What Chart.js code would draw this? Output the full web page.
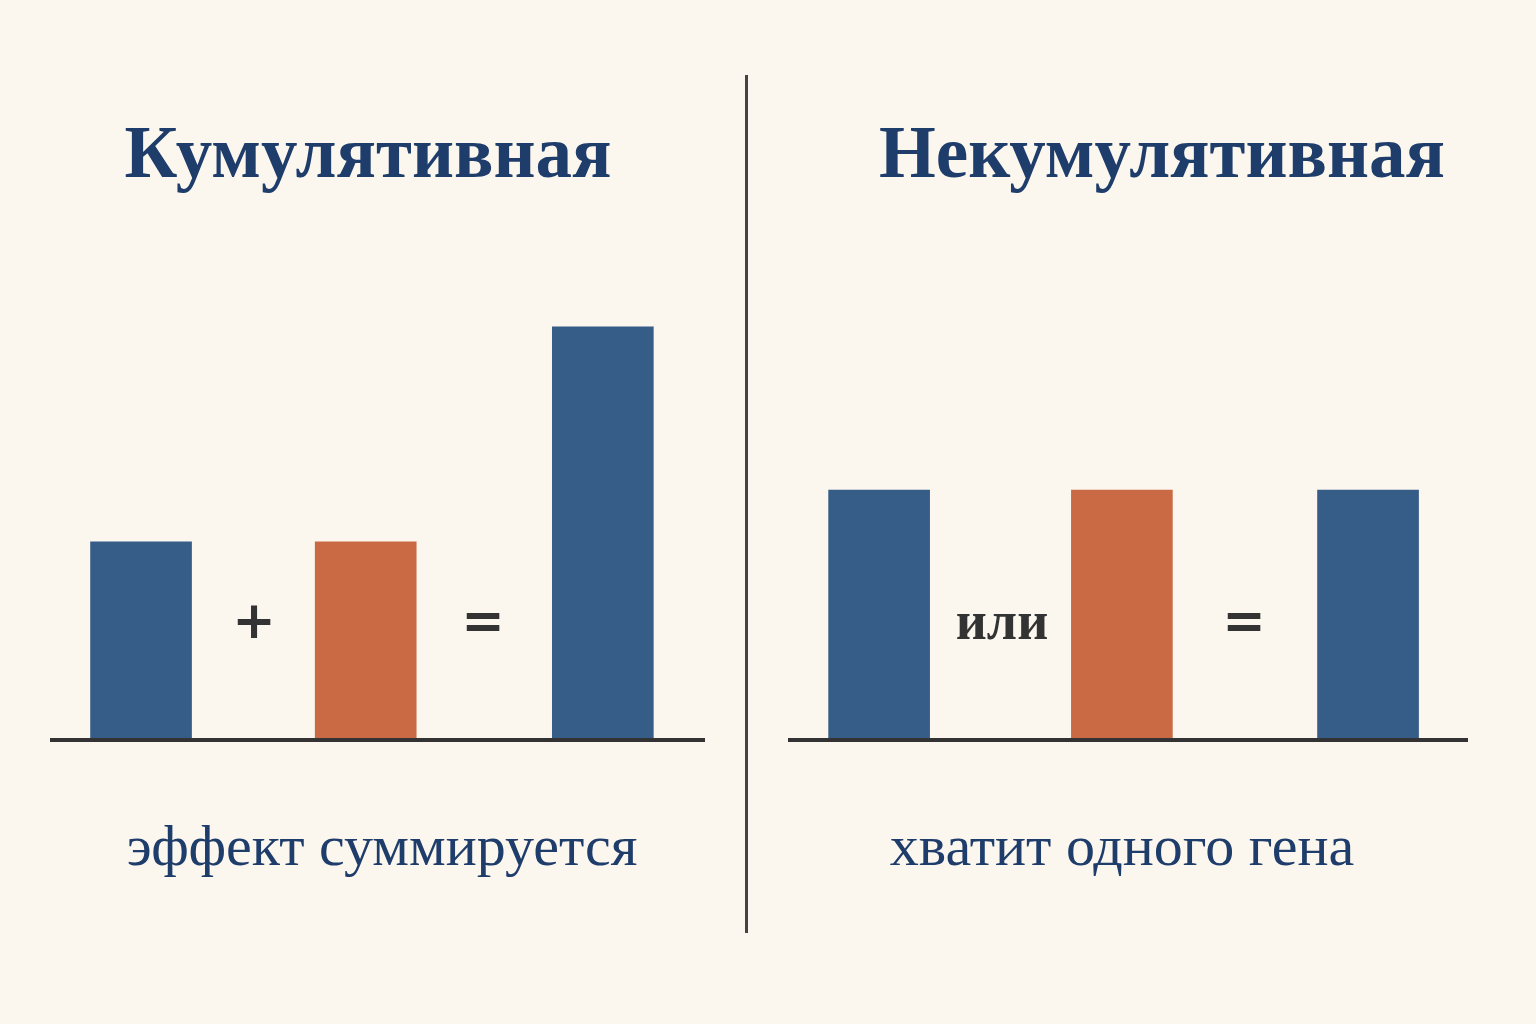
<!DOCTYPE html>
<html><head><meta charset="utf-8">
<script src="https://cdn.jsdelivr.net/npm/chart.js@4/dist/chart.umd.min.js"></script>
<style>
body{margin:0;width:1536px;height:1024px;background:#fbf6ee;position:relative;overflow:hidden;font-family:"DejaVu Serif","Liberation Serif",serif}
.t{position:absolute;white-space:nowrap;transform:translateX(-50%)}
.title{font-family:"Liberation Serif","DejaVu Serif",serif;font-weight:bold;font-size:73px;color:#1f3d6b;top:111px}
.cap{font-family:"Liberation Serif","DejaVu Serif",serif;font-size:58px;color:#1f3d6b;top:812px}
.op{font-family:"DejaVu Sans",sans-serif;font-weight:bold;font-size:52px;color:#333;top:590px}
.ili{font-family:"Liberation Serif",serif;font-weight:bold;font-size:54px;color:#333;top:590px}
#div{position:absolute;left:745px;top:75px;width:3px;height:858px;background:#444}
.wrap{position:absolute;top:300px;height:442px}
</style></head><body>
<div class="t title" style="left:368px">Кумулятивная</div>
<div class="t title" style="left:1162px">Некумулятивная</div>
<div class="t cap" style="left:382px">эффект суммируется</div>
<div class="t cap" style="left:1122px">хватит одного гена</div>
<div class="t op" style="left:254px">+</div>
<div class="t op" style="left:483px">=</div>
<div class="t ili" style="left:1002px">или</div>
<div class="t op" style="left:1244px">=</div>
<div id="div"></div>
<div class="wrap" style="left:50px;width:655px"><canvas id="c1"></canvas></div>
<div class="wrap" style="left:788px;width:680px"><canvas id="c2"></canvas></div>
<script>
const leftPositions=[1.39,4.82,8.44];
const leftValues=[4.48,4.48,9.39];
const rightPositions=[1.34,4.91,8.53];
const rightValues=[5.66,5.66,5.66];
const barColors=['#365d87','#c96a45','#365d87'];
const baseline={id:'baseline',afterDraw(c){const ctx=c.ctx,a=c.chartArea;ctx.save();ctx.strokeStyle='#333';ctx.lineWidth=4;ctx.beginPath();ctx.moveTo(0,a.bottom+2);ctx.lineTo(c.width,a.bottom+2);ctx.stroke();ctx.restore();}};
function make(id,pos,vals){
 new Chart(document.getElementById(id),{type:'bar',
  data:{datasets:[{data:pos.map((x,i)=>({x:x,y:vals[i]})),backgroundColor:barColors,barThickness:101,borderWidth:0}]},
  options:{responsive:true,maintainAspectRatio:false,animation:false,layout:{padding:{bottom:4}},
   plugins:{legend:{display:false},tooltip:{enabled:false}},
   scales:{x:{type:'linear',min:0,max:10,offset:false,display:false},y:{min:0,max:10,display:false}}},
  plugins:[baseline]});
}
make('c1',leftPositions,leftValues);
make('c2',rightPositions,rightValues);
</script></body></html>
